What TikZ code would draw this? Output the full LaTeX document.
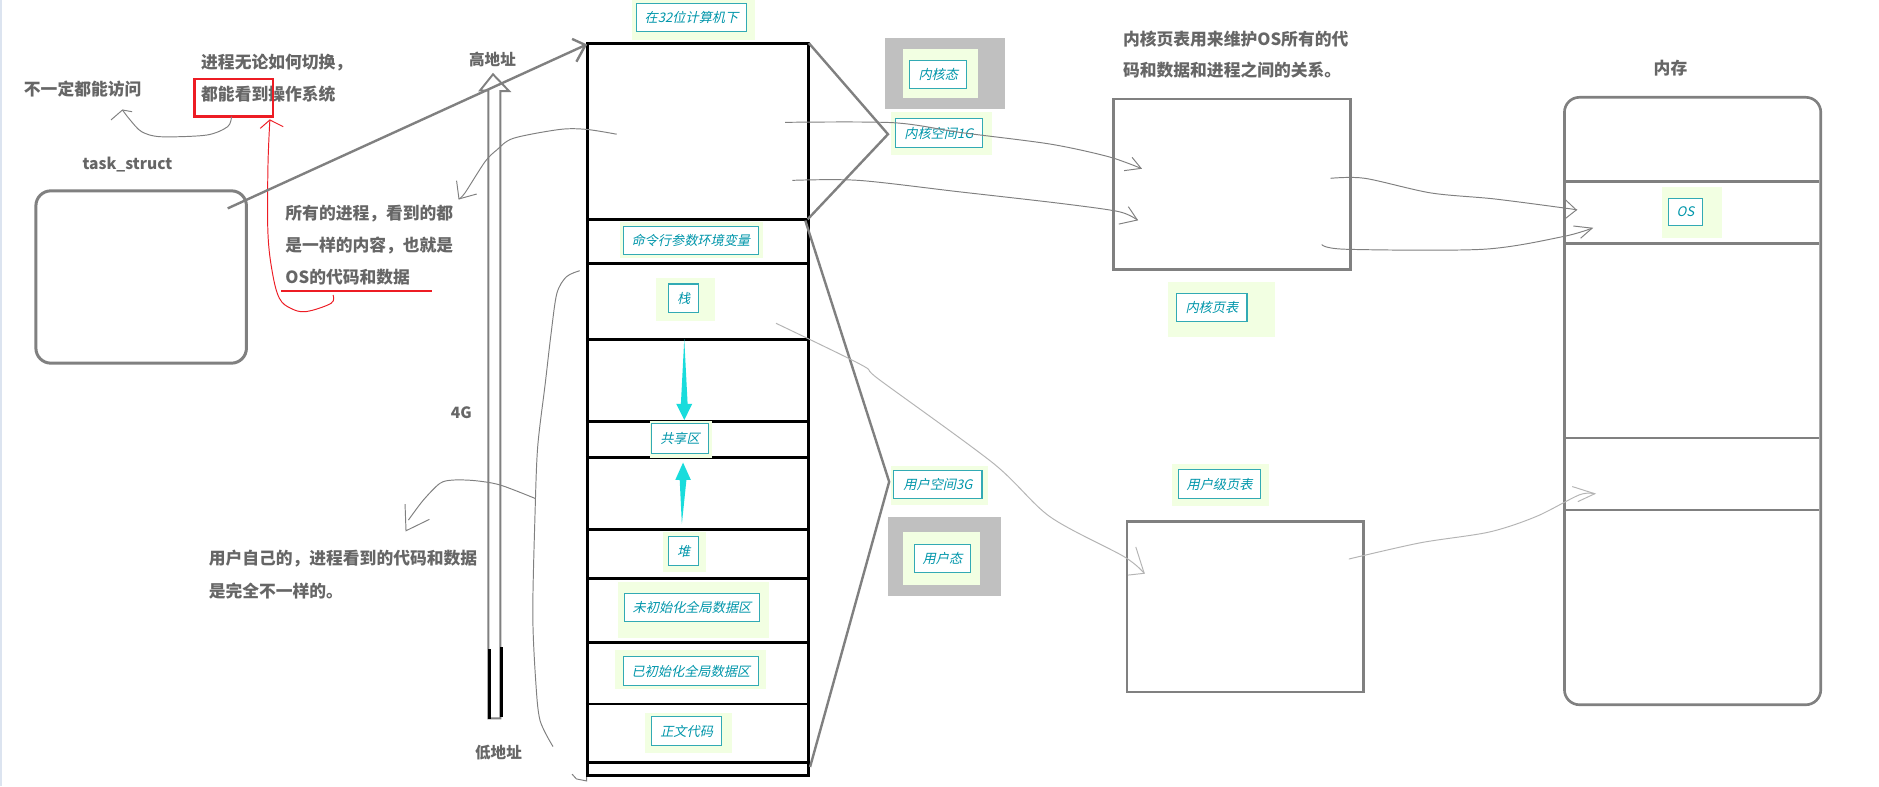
\documentclass[tikz,border=0pt]{standalone}
\usepackage{fontspec}
\newfontfamily\cjk{Noto Sans CJK SC}
\newfontfamily\cjkl{Noto Sans CJK SC}[FakeSlant=0.22]
\usetikzlibrary{calc}
\definecolor{txtgray}{RGB}{102,102,102}
\definecolor{lngray}{RGB}{128,128,128}
\definecolor{ltgray}{RGB}{180,180,180}
\definecolor{tealtxt}{RGB}{0,150,170}
\definecolor{tealbd}{RGB}{50,170,180}
\definecolor{lblbg}{RGB}{242,255,226}
\definecolor{statebg}{RGB}{192,192,192}
\definecolor{cyanar}{RGB}{25,220,220}
\definecolor{redln}{RGB}{237,28,36}
\definecolor{edgeblue}{RGB}{220,228,240}
\tikzset{
  note/.style={font=\cjk\bfseries\fontsize{14}{16}\selectfont, text=txtgray, inner sep=0pt, anchor=west},
  smallnote/.style={note, font=\cjk\bfseries\fontsize{13}{15}\selectfont},
  lbl/.style={draw=tealbd, fill=white, line width=0.9pt, inner sep=0pt, font=\cjkl\fontsize{11}{11}\selectfont, text=tealtxt},
  memline/.style={line width=2.4pt, black},
  bigbox/.style={draw=lngray, line width=2.2pt, anchor=north west, inner sep=0pt},
  bracketln/.style={lngray, line width=2pt, line join=miter},
  conn/.style={lngray, line width=0.8pt},
  lconn/.style={ltgray, line width=0.8pt},
  redconn/.style={redln, line width=0.8pt},
}
\begin{document}
\begin{tikzpicture}[x=1pt,y=-1pt]
\useasboundingbox (0,0) rectangle (1568,656);
\fill[white] (0,0) rectangle (1568,656);
\draw[edgeblue, line width=1.5pt] (0.75,0) -- (0.75,656);

% virtual memory column
\node[draw=black, line width=2.4pt, anchor=north west, inner sep=0pt, minimum width=184.5pt, minimum height=611pt] (vm) at (489,35) {};
\foreach \yy in {183,220,283,351.5,381.6,441.6,482.5,536,587.5,636}
  \draw[memline] (489,\yy) -- (673.5,\yy);

% labels
\fill[lblbg] (527,0) rectangle (630,33);
\node[lbl,minimum width=92pt,minimum height=23pt] (l32) at (577,14.5) {在32位计算机下};
\fill[statebg] (738.5,31.5) rectangle (838.7,91);
\fill[lblbg] (753.5,41) rectangle (816,81.7);
\node[lbl,minimum width=47.5pt,minimum height=23pt] (kst) at (783,62) {内核态};
\fill[lblbg] (743.6,93.7) rectangle (828,129.4);
\node[lbl,minimum width=73pt,minimum height=23.5pt] (ksp) at (783.5,111) {内核空间1G};
\fill[lblbg] (517,185) rectangle (637,215);
\node[lbl,minimum width=113pt,minimum height=23pt] (env) at (576.5,200.5) {命令行参数环境变量};
\fill[lblbg] (547,232) rectangle (597,268);
\node[lbl,minimum width=25pt,minimum height=24pt] (stk) at (570.5,249) {栈};
\fill[lblbg] (542,351) rectangle (594,382);
\node[lbl,minimum width=47pt,minimum height=25pt] (shr) at (567.5,366) {共享区};
\fill[lblbg] (553,444) rectangle (589,477);
\node[lbl,minimum width=25pt,minimum height=24pt] (heap) at (570.5,460) {堆};
\fill[lblbg] (516,486) rectangle (642,532);
\node[lbl,minimum width=113pt,minimum height=24pt] (bss) at (577.5,507) {未初始化全局数据区};
\fill[lblbg] (513,542) rectangle (639,575);
\node[lbl,minimum width=113pt,minimum height=24pt] (dat) at (576.5,560) {已初始化全局数据区};
\fill[lblbg] (538,595) rectangle (611,628);
\node[lbl,minimum width=58pt,minimum height=24pt] (txt) at (573,610) {正文代码};
\fill[lblbg] (743.6,389) rectangle (824.5,421.5);
\node[lbl,minimum width=73.5pt,minimum height=23pt] (usp) at (782.7,404.5) {用户空间3G};
\fill[statebg] (741,431.5) rectangle (835,497.5);
\fill[lblbg] (753.5,444) rectangle (818,488);
\node[lbl,minimum width=47pt,minimum height=24pt] (ust) at (786.5,466) {用户态};
\fill[lblbg] (975,235) rectangle (1064,281);
\node[lbl,minimum width=58.6pt,minimum height=23.5pt] (kpt) at (1011.3,256.7) {内核页表};
\fill[lblbg] (978,387) rectangle (1059,422);
\node[lbl,minimum width=68.5pt,minimum height=24pt] (upt) at (1017.7,404) {用户级页表};
\fill[lblbg] (1387,156) rectangle (1437,198.6);
\node[lbl,minimum width=29pt,minimum height=23pt] (os) at (1406.5,177) {OS};

% bracket lines
\coordinate (kv) at (741,112);
\coordinate (uv) at (742,402);
\draw[bracketln] (675,36) -- (kv) -- (674,183);
\draw[bracketln] (672,184) -- (uv) -- (676,640);

% cyan arrows
\fill[cyanar] (571,283) -- (573.8,337) -- (577.7,337) -- (571,350.5) -- (564.3,337) -- (568.2,337) -- cycle;
\fill[cyanar] (570,386) -- (576.5,400.5) -- (572.8,400.5) -- (569,437.3) -- (567.2,400.5) -- (563.5,400.5) -- cycle;

% other boxes
\node[bigbox, rounded corners=12.5pt, minimum width=175.7pt, minimum height=143.8pt, line width=2.5pt] (ts) at (28.7,158) {};
\node[bigbox, minimum width=197.6pt, minimum height=142.5pt] (kptbox) at (928,81.5) {};
\node[bigbox, minimum width=197.3pt, minimum height=142.4pt] (uptbox) at (939.3,434) {};
\node[bigbox, rounded corners=12.5pt, minimum width=213.9pt, minimum height=506.9pt] (mem) at (1304.4,80.1) {};
\foreach \yy in {151.6,203,365.6,425.6}
  \draw[lngray, line width=2.2pt] (1304.4,\yy) -- (1518.3,\yy);

% address arrow
\draw[lngray, line width=1.6pt, line join=miter, fill=white] (407.5,599.5) -- (407.5,75.5) -- (400.6,75.5) -- (411.4,62) -- (424.8,76) -- (417.5,76) -- (417.5,599.5) -- cycle;
\draw[black, line width=2.2pt] (408.3,541.6) -- (408.3,600);
\draw[black, line width=2.2pt] (418.5,540) -- (418.5,598);

% texts
\node[note] (t1) at (19.8,74.5) {不一定都能访问};
\node[note] (t2) at (167.7,52) {进程无论如何切换，};
\node[note] (t3) at (167.7,78.7) {都能看到操作系统};
\node[smallnote] (tsl) at (68.7,137.7) {task\_struct};
\node[note] (t4a) at (238,178) {所有的进程，看到的都};
\node[note] (t4b) at (238,204.5) {是一样的内容，也就是};
\node[note] (t4c) at (238,230.9) {OS的代码和数据};
\node[smallnote, anchor=center] (hi) at (411,50) {高地址};
\node[smallnote, anchor=center] (g4) at (385,344) {4G};
\node[smallnote, anchor=center] (lo) at (416,628.4) {低地址};
\node[note] (t5a) at (174,466.5) {用户自己的，进程看到的代码和数据};
\node[note] (t5b) at (174,493) {是完全不一样的。};
\node[note] (t6a) at (937,32.5) {内核页表用来维护OS所有的代};
\node[note] (t6b) at (937,58.5) {码和数据和进程之间的关系。};
\node[note, anchor=center] (memt) at (1394,56.5) {内存};

% red marks
\node[draw=redln, line width=2.2pt, minimum width=65.4pt, minimum height=31.2pt, anchor=north west, inner sep=0pt] (rbox) at (161.3,64.8) {};
\draw[redln, line width=2.2pt] (234.7,242.8) -- (360.2,242.8);
\coordinate (rs) at (277.9,246.2);
\coordinate (rt) at (225.2,100.1);
\draw[redconn] plot[smooth, tension=0.6] coordinates {(rs) (276.3,253.1) (255.5,260) (242.7,257.3) (233.2,249) (227.4,228) (223.6,194.7) (223.6,139.1) (rt)};
\draw[redconn] (217.2,107.1) -- (rt) -- (236.3,105.7);

% gray hand-drawn connectors
\coordinate (g1s) at (193.2,97.4);
\coordinate (g1t) at (102.2,91.8);
\draw[conn] plot[smooth] coordinates {(g1s) (190,105.7) (172.5,112.7) (134.1,114.1) (118.2,109.9) (108.6,100.1) (g1t)};
\draw[conn] (92.6,100.1) -- (g1t) -- (110.2,93.2);

\coordinate (g2s) at (514.6,112);
\coordinate (g2t) at (383,166);
\draw[conn] plot[smooth] coordinates {(g2s) (489.6,108) (467.3,108) (428.4,115.4) (414.5,125.2) (404.7,135) (388,161) (g2t)};
\draw[conn] (381,150.8) -- (g2t) -- (397.8,161.9);

\coordinate (g3s) at (446.5,415.9);
\coordinate (g3t) at (338.8,442.9);
\draw[conn] plot[smooth] coordinates {(g3s) (417.3,404.7) (396.4,401.1) (378.3,400.6) (367.2,403.3) (353.3,417.3) (340.8,434)};
\draw[conn] (338,420.6) -- (g3t) -- (358.3,433.4);

\coordinate (brs) at (483.8,225.9);
\coordinate (bre) at (461.5,623);
\draw[conn] plot[smooth] coordinates {(brs) (472.7,230.9) (464.7,244.8) (459.9,278) (455,320) (448.7,372.8) (446.5,428) (444.6,511.8) (447,567.5) (450.6,601) (bre)};
\draw[conn] (477.4,646) -- (481,650) -- (489.6,651.7) -- (489.6,648.5);

% task_struct -> virtual memory
\coordinate (tsin) at (190,173.9);
\coordinate (vmtip) at (488.6,37.6);
\draw[lngray, line width=2pt] (tsin) -- (vmtip);
\draw[lngray, line width=2pt] (477.4,32.5) -- (vmtip) -- (481,51.5);

% kernel space -> kernel page table
\coordinate (k1s) at (655.1,102.1);
\coordinate (k1t) at (952.2,140.5);
\draw[conn] plot[smooth] coordinates {(k1s) (745.5,102.4) (802.5,110.7) (876.2,120.2) (924.8,130.7) (k1t)};
\draw[conn] (944.7,131.3) -- (k1t) -- (938,142.4);
\coordinate (k2s) at (661.2,150.5);
\coordinate (k2t) at (949.1,183.6);
\draw[conn] plot[smooth] coordinates {(k2s) (716.3,150.5) (800,160) (884.6,169.7) (933.6,176.6) (k2t)};
\draw[conn] (941.6,172.5) -- (k2t) -- (933.6,187);

% kernel page table -> memory OS
\coordinate (m1s) at (1110.3,148.8);
\coordinate (m1t) at (1315.4,175.2);
\draw[conn] plot[smooth] coordinates {(m1s) (1139,148.8) (1194,161) (1247,166) (1308.5,174) (m1t)};
\draw[conn] (1306.5,166.9) -- (m1t) -- (1306.5,182.2);
\coordinate (m2s) at (1103,204);
\coordinate (m2t) at (1328.6,190.4);
\draw[conn] plot[smooth] coordinates {(m2s) (1123,208) (1238,208) (1304,197.5) (m2t)};
\draw[conn] (1313,188.6) -- (m2t) -- (1319,198.8);

% stack -> user page table -> memory
\coordinate (u1s) at (647.6,269.8);
\coordinate (u1t) at (954.8,478.4);
\draw[lconn] plot[smooth] coordinates {(u1s) (719,304.6) (734,317) (829,386.7) (876.2,431.2) (938,464.5) (u1t)};
\draw[lconn] (947.8,456.4) -- (u1t) -- (941.5,479.9);
\coordinate (u2s) at (1125.6,466.5);
\coordinate (u2t) at (1330.8,412);
\draw[lconn] plot[smooth] coordinates {(u2s) (1185,453) (1242.6,444) (1282,431) (1317.8,413) (u2t)};
\draw[lconn] (1312,406) -- (u2t) -- (1316.7,418.6);
\end{tikzpicture}
\end{document}
